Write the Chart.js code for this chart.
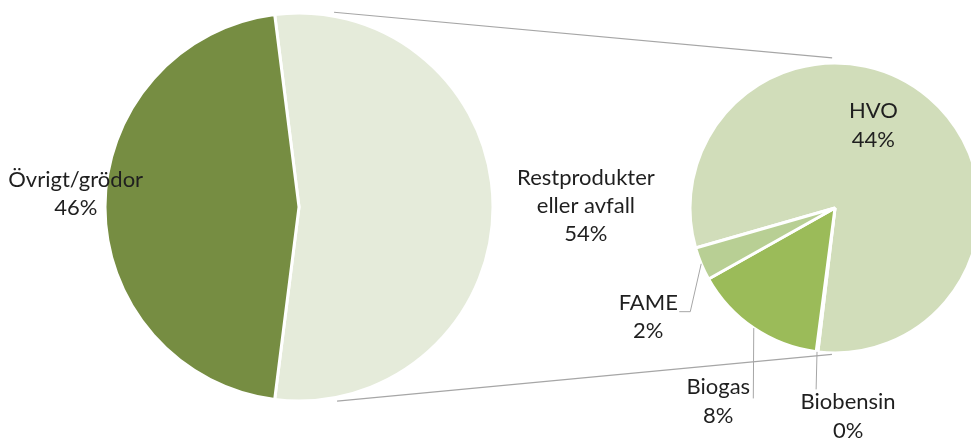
<!DOCTYPE html>
<html>
<head>
<meta charset="utf-8">
<script src="https://cdn.jsdelivr.net/npm/chart.js@4"></script>
<style>
  html, body { margin: 0; padding: 0; background: #fff; overflow: hidden; }
  #wrap { position: relative; width: 971px; height: 438px; overflow: hidden; }
  canvas { position: absolute; left: 0; top: 0; }
</style>
</head>
<body>
<div id="wrap">
  <canvas id="mainPie" width="971" height="438"></canvas>
  <canvas id="subPie" width="1000" height="438"></canvas>
</div>
<script>
// main pie
const mainLabels = [["Restprodukter", "eller avfall"], "Övrigt/grödor"];
const mainValues = [54, 46];
// breakdown of "Restprodukter eller avfall"
const subLabels = ["HVO", "Biobensin", "Biogas", "FAME"];
const subValues = [44, 0.1, 8, 2];

const mainColors = ["#e5ebda", "#768d42"];
const subColors = ["#d1ddba", "#c9d9ab", "#9bbb59", "#b8cf94"];

const textFont = '22px Lato';
const lineColor = '#a6a6a6';

// angle in degrees clockwise from 12 o'clock, f = multiple of radius
function polar(cx, cy, r, deg, f) {
  const a = (deg - 90) * Math.PI / 180;
  return [cx + Math.cos(a) * r * f, cy + Math.sin(a) * r * f];
}

const sliceLabels = {
  id: 'sliceLabels',
  afterDraw(chart, args, opts) {
    const ctx = chart.ctx;
    const meta = chart.getDatasetMeta(0);
    const values = chart.data.datasets[0].data;
    ctx.save();
    meta.data.forEach((arc, i) => {
      const pos = opts.at[i];
      const [x, y] = polar(arc.x, arc.y, arc.outerRadius, pos[0], pos[1]);
      const lines = [].concat(chart.data.labels[i], Math.round(values[i]) + '%');
      ctx.font = textFont;
      ctx.fillStyle = '#1f1f1f';
      ctx.textAlign = 'center';
      ctx.textBaseline = 'middle';
      lines.forEach((t, k) => {
        ctx.fillText(t, x, y + (k - (lines.length - 1) / 2) * opts.lineHeight);
      });
      const lead = opts.leaders && opts.leaders[i];
      if (lead) {
        const mid = (arc.startAngle + arc.endAngle) / 2;
        ctx.beginPath();
        lead.forEach((p, k) => {
          if (k === 0) ctx.moveTo(x + p[0], y + p[1]);
          else ctx.lineTo(x + p[0], y + p[1]);
        });
        ctx.lineTo(arc.x + Math.cos(mid) * arc.outerRadius, arc.y + Math.sin(mid) * arc.outerRadius);
        ctx.strokeStyle = lineColor;
        ctx.lineWidth = 1;
        ctx.stroke();
      }
    });
    ctx.restore();
  }
};

// lines joining the two pies
const connectors = {
  id: 'connectors',
  afterDraw(chart, args, opts) {
    const a = mainChart.getDatasetMeta(0).data[0];
    const b = chart.getDatasetMeta(0).data[0];
    const ctx = chart.ctx;
    ctx.save();
    ctx.strokeStyle = lineColor;
    ctx.lineWidth = 1.2;
    opts.pairs.forEach(pr => {
      const p1 = polar(a.x, a.y, a.outerRadius, pr[0][0], pr[0][1]);
      const p2 = polar(b.x, b.y, b.outerRadius, pr[1][0], pr[1][1]);
      ctx.beginPath();
      ctx.moveTo(p1[0], p1[1]);
      ctx.lineTo(p2[0], p2[1]);
      ctx.stroke();
    });
    ctx.restore();
  }
};

const mainChart = new Chart("mainPie", {
  type: "pie",
  data: {
    labels: mainLabels,
    datasets: [{
      data: mainValues,
      backgroundColor: mainColors,
      borderColor: "#fff",
      borderWidth: 3,
      hoverOffset: 0
    }]
  },
  options: {
    responsive: false,
    animation: false,
    rotation: -7.2,
    radius: 194,
    layout: { padding: { left: 0, right: 373, top: 0, bottom: 24 } },
    plugins: {
      legend: { display: false },
      tooltip: { enabled: false },
      sliceLabels: {
        lineHeight: 28,
        at: [[89.7, 1.479], [273.4, 1.153]]
      }
    }
  },
  plugins: [sliceLabels]
});

new Chart("subPie", {
  type: "pie",
  data: {
    labels: subLabels,
    datasets: [{
      data: subValues,
      backgroundColor: subColors,
      borderColor: "#fff",
      borderWidth: 3,
      hoverOffset: 0
    }]
  },
  options: {
    responsive: false,
    animation: false,
    rotation: 254,
    radius: 145,
    layout: { padding: { left: 670, right: 0, top: 0, bottom: 22 } },
    plugins: {
      legend: { display: false },
      tooltip: { enabled: false },
      sliceLabels: {
        lineHeight: 28.5,
        at: [[24.9, 0.628], [176.4, 1.44], [211.1, 1.558], [239.8, 1.49]],
        leaders: [null, [[-32, -27]], [[35, -3]], [[31, -5], [42, -5]]]
      },
      connectors: {
        pairs: [
          [[10.2, 1.02], [-1.1, 1.035]],
          [[168.9, 1.02], [181.2, 1.01]]
        ]
      }
    }
  },
  plugins: [sliceLabels, connectors]
});
</script>
</body>
</html>
